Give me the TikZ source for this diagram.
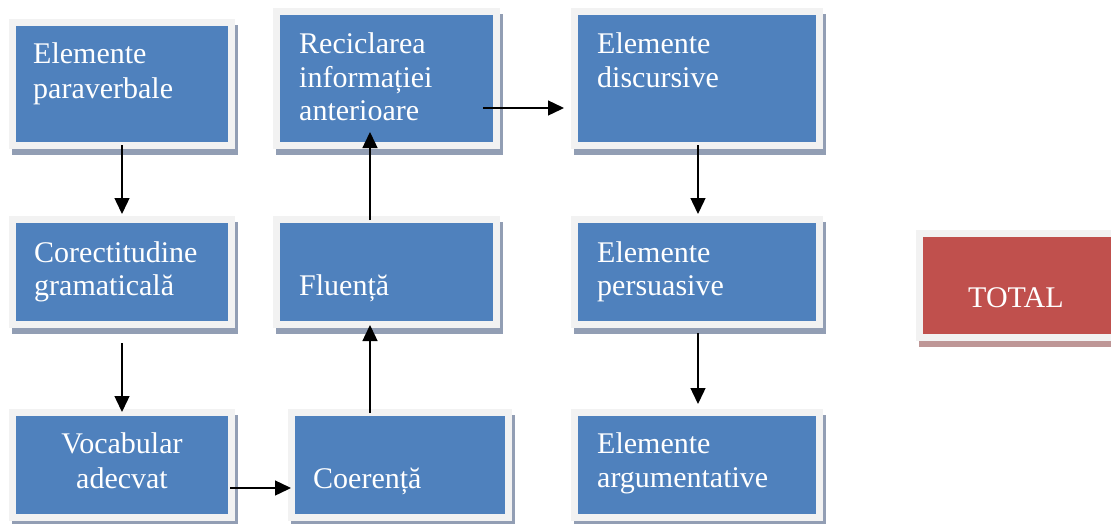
\documentclass[tikz,border=0pt]{standalone}
\usepackage{fontspec}
\setmainfont{Liberation Serif}
\usetikzlibrary{arrows.meta,shadows}
\definecolor{boxblue}{HTML}{4F81BD}
\definecolor{boxred}{HTML}{C0504D}
\definecolor{rimgray}{HTML}{F2F2F2}
\definecolor{shadblue}{RGB}{146,158,180}
\definecolor{shadred}{RGB}{190,150,150}
\tikzset{
  stepbox/.style={rectangle, inner sep=0pt, fill=rimgray,
    drop shadow={shadow xshift=3pt, shadow yshift=-6pt, fill=shadblue, opacity=1},
    path picture={\fill[boxblue] ([shift={(7pt,-7pt)}]path picture bounding box.north west)
      rectangle ([shift={(-7pt,7pt)}]path picture bounding box.south east);}},
  totalbox/.style={rectangle, inner sep=0pt, fill=rimgray,
    drop shadow={shadow xshift=3pt, shadow yshift=-6pt, fill=shadred, opacity=1},
    path picture={\fill[boxred] ([shift={(7pt,-7pt)}]path picture bounding box.north west)
      rectangle ([shift={(-7pt,7pt)}]path picture bounding box.south east);}},
  txt/.style={inner sep=0pt, text=white, font=\fontsize{30}{34}\selectfont},
  lw/.style={txt, anchor=base west},
  lc/.style={txt, anchor=base},
  conn/.style={line width=1.4pt, -{Triangle[width=15pt,length=16pt]}}
}
\begin{document}
\begin{tikzpicture}[x=1pt,y=-1pt]
\useasboundingbox (0,0) rectangle (1111,523);
\clip (0,0) rectangle (1111,523);
% boxes
\node[stepbox, minimum width=226pt, minimum height=130pt] (P) at (122,84) {};
\node[stepbox, minimum width=226pt, minimum height=112pt] (C) at (122,272) {};
\node[stepbox, minimum width=226pt, minimum height=112pt] (V) at (122,465) {};
\node[stepbox, minimum width=224pt, minimum height=112pt] (Co) at (400,465) {};
\node[stepbox, minimum width=227pt, minimum height=112pt] (F) at (386.5,272) {};
\node[stepbox, minimum width=227pt, minimum height=141pt] (R) at (386.5,78.5) {};
\node[stepbox, minimum width=252pt, minimum height=141pt] (D) at (697,78.5) {};
\node[stepbox, minimum width=252pt, minimum height=112pt] (Pe) at (697,272) {};
\node[stepbox, minimum width=252pt, minimum height=112pt] (A) at (697,465) {};
\node[totalbox, minimum width=216pt, minimum height=111pt] (T) at (1024,285.5) {};
% texts
\node[lw] (P1) at (33,63) {Elemente};
\node[lw] (P2) at (33,98) {paraverbale};
\node[lw] (C1) at (34,262) {Corectitudine};
\node[lw] (C2) at (34,295) {gramaticală};
\node[lc] (V1) at (122,453) {Vocabular};
\node[lc] (V2) at (122,488) {adecvat};
\node[lw] (Co1) at (313,488) {Coerență};
\node[lw] (F1) at (299,295) {Fluență};
\node[lw] (R1) at (299,53) {Reciclarea};
\node[lw] (R2) at (299,87) {informației};
\node[lw] (R3) at (299,120) {anterioare};
\node[lw] (D1) at (597,53) {Elemente};
\node[lw] (D2) at (597,87) {discursive};
\node[lw] (Pe1) at (597,262) {Elemente};
\node[lw] (Pe2) at (597,295) {persuasive};
\node[lw] (A1) at (597,453) {Elemente};
\node[lw] (A2) at (597,487) {argumentative};
\node[lw] (T1) at (968,307) {TOTAL};
% connector end points
\coordinate (pc1) at (122,145);
\coordinate (pc2) at (122,214);
\coordinate (cv1) at (122,343);
\coordinate (cv2) at (122,412);
\coordinate (vc1) at (230,488);
\coordinate (vc2) at (291,488);
\coordinate (cf1) at (370,413);
\coordinate (cf2) at (370,325);
\coordinate (fr1) at (370,220);
\coordinate (fr2) at (370,132);
\coordinate (rd1) at (483,108);
\coordinate (rd2) at (564,108);
\coordinate (dp1) at (698,145);
\coordinate (dp2) at (698,214);
\coordinate (pa1) at (698,333);
\coordinate (pa2) at (698,404);
\draw[conn] (pc1) -- (pc2);
\draw[conn] (cv1) -- (cv2);
\draw[conn] (vc1) -- (vc2);
\draw[conn] (cf1) -- (cf2);
\draw[conn] (fr1) -- (fr2);
\draw[conn] (rd1) -- (rd2);
\draw[conn] (dp1) -- (dp2);
\draw[conn] (pa1) -- (pa2);
\end{tikzpicture}
\end{document}
